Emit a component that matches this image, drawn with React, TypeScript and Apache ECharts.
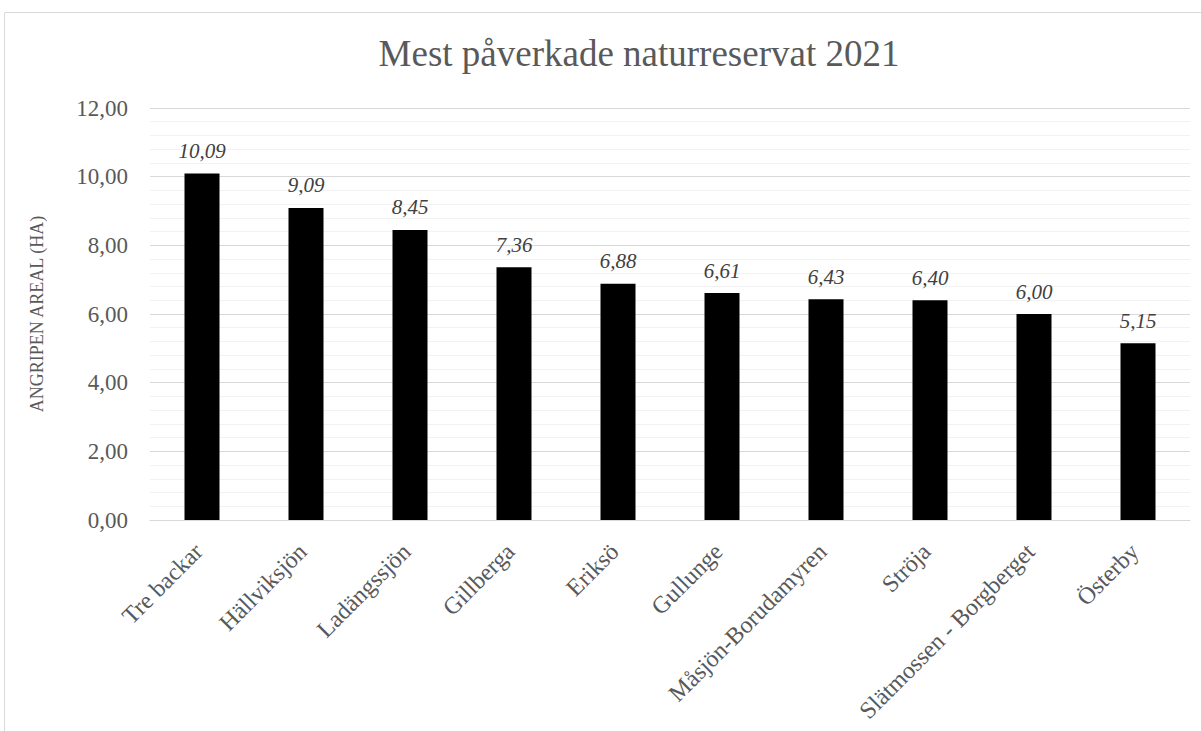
import React, { useEffect, useRef } from "react";
import * as echarts from "echarts";

const categories = [
  "Tre backar",
  "Hällviksjön",
  "Ladängssjön",
  "Gillberga",
  "Eriksö",
  "Gullunge",
  "Måsjön-Borudamyren",
  "Ströja",
  "Slätmossen - Borgberget",
  "Österby",
];
const values = [10.09, 9.09, 8.45, 7.36, 6.88, 6.61, 6.43, 6.4, 6.0, 5.15];
const titleText = "Mest påverkade naturreservat 2021";
const yAxisName = "ANGRIPEN AREAL (HA)";

const fmt = (v: number) => v.toFixed(2).replace(".", ",");
const FONT = "'Liberation Serif', 'Times New Roman', serif";

export default function App() {
  const ref = useRef<HTMLDivElement>(null);
  useEffect(() => {
    if (!ref.current) return;
    const chart = echarts.init(ref.current, undefined, { renderer: "svg" });
    chart.setOption({
      animation: false,
      backgroundColor: "#ffffff",
      textStyle: { fontFamily: FONT },
      title: {
        text: titleText,
        left: 634,
        top: 30,
        textAlign: "center",
        textStyle: {
          fontFamily: FONT,
          fontSize: 37,
          fontWeight: "normal",
          color: "#595959",
        },
      },
      graphic: [
        {
          type: "rect",
          shape: { x: 4.5, y: 12.5, width: 1300, height: 800 },
          style: { fill: "none", stroke: "#d9d9d9", lineWidth: 1 },
          silent: true,
        },
      ],
      grid: { left: 150, right: 11, top: 108, bottom: 211, containLabel: false },
      xAxis: {
        type: "category",
        data: categories,
        axisLine: { show: true, lineStyle: { color: "#d9d9d9", width: 1 } },
        axisTick: { show: false },
        axisLabel: {
          interval: 0,
          rotate: 45,
          margin: 24,
          padding: [0, 5, 0, 0],
          fontFamily: FONT,
          fontSize: 24,
          color: "#595959",
        },
      },
      yAxis: {
        type: "value",
        min: 0,
        max: 12,
        interval: 2,
        name: yAxisName,
        nameLocation: "middle",
        nameGap: 104,
        nameTextStyle: { fontFamily: FONT, fontSize: 18, color: "#595959" },
        axisLine: { show: false },
        axisTick: { show: false },
        axisLabel: {
          fontFamily: FONT,
          fontSize: 23,
          color: "#595959",
          margin: 22,
          formatter: (v: number) => fmt(v),
        },
        splitLine: { show: true, lineStyle: { color: "#d9d9d9", width: 1 } },
        minorTick: { show: false, splitNumber: 5 },
        minorSplitLine: { show: true, lineStyle: { color: "#f2f2f2", width: 1 } },
      },
      series: [
        {
          type: "bar",
          data: values,
          barWidth: 35,
          itemStyle: { color: "#000000" },
          label: {
            show: true,
            position: "top",
            distance: 12,
            fontFamily: FONT,
            fontStyle: "italic",
            fontSize: 21,
            color: "#404040",
            formatter: (p: any) => fmt(p.value),
          },
        },
      ],
    });
    return () => chart.dispose();
  }, []);
  return (
    <div
      ref={ref}
      style={{ position: "fixed", left: 0, top: 0, width: 1201, height: 731 }}
    />
  );
}
